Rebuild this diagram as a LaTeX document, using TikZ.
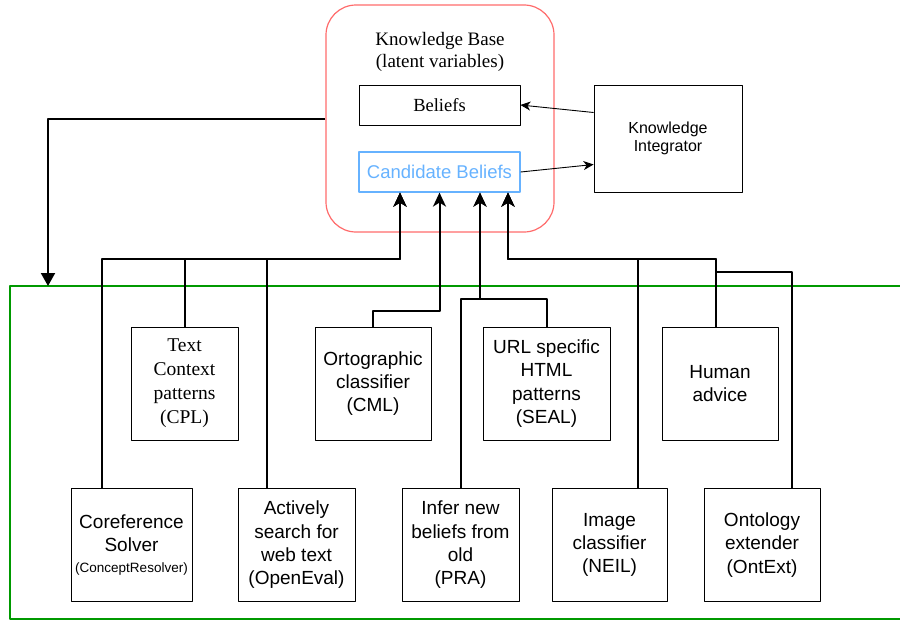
\documentclass[tikz,border=0pt]{standalone}
\usepackage{fontspec}
\setmainfont{Liberation Serif}
\setsansfont{Liberation Sans}
\usetikzlibrary{arrows.meta}
\definecolor{kbred}{HTML}{FF6B6B}
\definecolor{candblue}{HTML}{66B2FF}
\definecolor{agentgreen}{HTML}{009900}
\begin{document}
\begin{tikzpicture}[x=1pt,y=-1pt,line join=round,
	box/.style={draw,line width=0.9pt,align=center,inner sep=2pt,minimum height=113pt},
	sans/.style={font=\sffamily\fontsize{19}{23.3}\selectfont},
	serif/.style={font=\rmfamily\fontsize{19.5}{24}\selectfont},
	feed/.style={line width=2pt,-{Stealth[length=14pt,width=13pt,inset=4pt]}},
	link/.style={line width=0.9pt,-{Stealth[length=10pt,width=9pt,inset=3pt]}}]
	\useasboundingbox (0,0) rectangle (900,621);
	\node[draw=agentgreen,line width=2pt,minimum width=900pt,minimum height=333pt,outer sep=0pt] (agents) at (460,452.5) {};
	\node[draw=kbred,line width=1.2pt,rounded corners=30pt,minimum width=228pt,minimum height=227pt] (kb) at (440,118.5) {};
	\node[align=center,font=\rmfamily\fontsize{19}{21.7}\selectfont] (kbtitle) at (440,52) {Knowledge Base\\(latent variables)};
	\node[draw,line width=0.9pt,minimum width=161pt,minimum height=40pt,font=\rmfamily\fontsize{18.5}{22}\selectfont] (beliefs) at (439.5,105) {Beliefs};
	\node[draw=candblue,text=candblue,line width=1.2pt,minimum width=161pt,minimum height=40pt,font=\sffamily\fontsize{18.5}{22}\selectfont] (cand) at (439.5,172) {Candidate Beliefs};
	\node[box,minimum width=148pt,minimum height=107pt,font=\sffamily\fontsize{16}{18.5}\selectfont] (ki) at (668,138.5) {Knowledge\\Integrator};
	\node[box,serif,minimum width=107pt] (tcp) at (184.5,383.5) {Text\\Context\\patterns\\(CPL)};
	\node[box,sans,minimum width=116pt] (orto) at (373,383.5) {Ortographic\\classifier\\(CML)};
	\node[box,sans,minimum width=127pt] (seal) at (546.5,383.5) {URL specific\\HTML\\patterns\\(SEAL)};
	\node[box,sans,minimum width=116pt] (human) at (720,383.5) {Human\\advice};
	\node[box,sans,minimum width=121pt] (coref) at (131.5,545) {Coreference\\Solver\\[-3pt]\fontsize{13.5}{16}\selectfont(ConceptResolver)};
	\node[box,sans,minimum width=117pt] (active) at (296.5,545) {Actively\\search for\\web text\\(OpenEval)};
	\node[box,sans,minimum width=117pt] (pra) at (460.5,545) {Infer new\\beliefs from\\old\\(PRA)};
	\node[box,sans,minimum width=115pt] (neil) at (609.5,545) {Image\\classifier\\(NEIL)};
	\node[box,sans,minimum width=116pt] (ontext) at (762,545) {Ontology\\extender\\(OntExt)};
	\path (0,259) coordinate (busA) (0,272) coordinate (busB) (0,299) coordinate (busC) (0,311) coordinate (busD);
	\coordinate (inA) at ([xshift=-39.5pt]cand.south);
	\coordinate (inB) at (cand.south);
	\coordinate (inC) at ([xshift=40.5pt]cand.south);
	\coordinate (inD) at ([xshift=68.5pt]cand.south);
	\foreach \n/\dx in {coref/-29.5,tcp/0,active/-29.5,orto/0,pra/0,seal/0,human/-4,neil/28.5,ontext/30}
		\coordinate (\n-top) at ([xshift=\dx pt]\n.north);
	\foreach \n/\bus/\dst in {coref/busA/inA,tcp/busA/inA,active/busA/inA,orto/busD/inB,pra/busC/inC,seal/busC/inC,neil/busA/inD,human/busA/inD}
		\draw[feed] (\n-top) -- (\n-top |- \bus) -| (\dst);
	\draw[feed] (ontext-top) |- (human-top |- busB) -- (human-top |- busA) -| (inD);
	\draw[line width=2pt,-{Triangle[length=13pt,width=14pt]}] (kb.west) -| ([xshift=38pt]agents.north west);
	\draw[link] ([yshift=26pt]ki.west) -- (beliefs.east);
	\draw[link] (cand.east) -- ([yshift=-26pt]ki.west);
\end{tikzpicture}
\end{document}
